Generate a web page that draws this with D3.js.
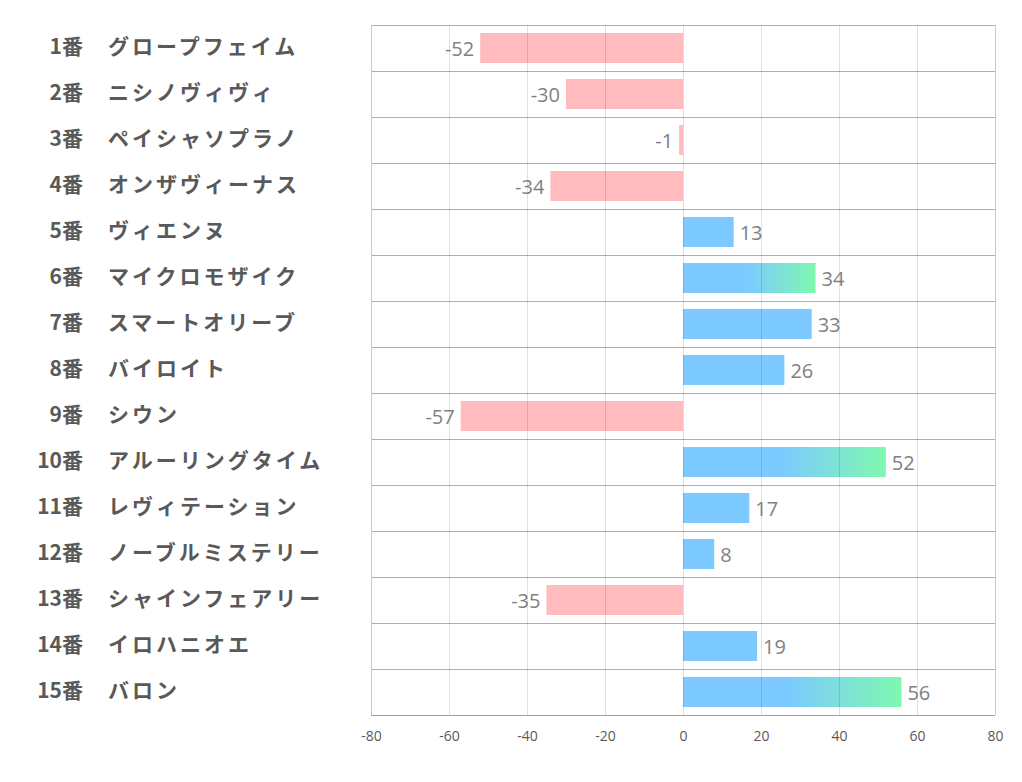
<!DOCTYPE html>
<html><head><meta charset="utf-8">
<script src="https://cdn.jsdelivr.net/npm/d3@7"></script>
<style>body{margin:0;background:#fff}svg{display:block}</style>
</head><body><svg id="c" width="1022" height="782"></svg>
<script>
const numbers = ["1番","2番","3番","4番","5番","6番","7番","8番","9番","10番","11番","12番","13番","14番","15番"];
const names = ["グロープフェイム","ニシノヴィヴィ","ペイシャソプラノ","オンザヴィーナス","ヴィエンヌ","マイクロモザイク","スマートオリーブ","バイロイト","シウン","アルーリングタイム","レヴィテーション","ノーブルミステリー","シャインフェアリー","イロハニオエ","バロン"];
const values = [-52,-30,-1,-34,13,34,33,26,-57,52,17,8,-35,19,56];
const tickValues = [-80,-60,-40,-20,0,20,40,60,80];

const svg = d3.select("#c");
const L = 371, R = 995, T = 25, B = 715;
const x = d3.scaleLinear().domain([-80,80]).range([L,R]);
const y = d3.scaleBand().domain(d3.range(values.length)).range([T,B]);
const barH = 30;

const top3 = values.slice().sort((a,b)=>b-a).slice(0,3);

const defs = svg.append("defs");
const grad = defs.append("linearGradient").attr("id","g").attr("x1","0").attr("x2","1").attr("y1","0").attr("y2","0");
grad.append("stop").attr("offset","0.48").attr("stop-color","#7ccaff");
grad.append("stop").attr("offset","1").attr("stop-color","#7ff8b0");

// horizontal separators
svg.append("g").selectAll("line").data(d3.range(values.length)).join("line")
  .attr("x1",L).attr("x2",R).attr("y1",i=>y(i)+0.5).attr("y2",i=>y(i)+0.5)
  .attr("stroke","#b0b0b0").attr("stroke-width",1);

// bars
svg.append("g").selectAll("rect").data(values).join("rect")
  .attr("x",d=>Math.min(x(0),x(d)))
  .attr("width",d=>Math.abs(x(d)-x(0)))
  .attr("y",(d,i)=>y(i)+(y.bandwidth()-barH)/2)
  .attr("height",barH)
  .attr("fill",d=> d<0 ? "#ffbbbe" : (top3.includes(d) ? "url(#g)" : "#7ccaff"));

// vertical gridlines (drawn over, faint)
svg.append("g").selectAll("line").data(tickValues).join("line")
  .attr("x1",d=>Math.round(x(d))+0.5).attr("x2",d=>Math.round(x(d))+0.5)
  .attr("y1",T).attr("y2",B)
  .attr("stroke",d=> (d===-80||d===80)?"#c8c8c8":"rgba(0,0,0,0.12)").attr("stroke-width",1);

// bottom axis line
svg.append("line").attr("x1",L).attr("x2",R).attr("y1",B+0.5).attr("y2",B+0.5)
  .attr("stroke","#a0a0a0").attr("stroke-width",1);

// tick labels
const ax = svg.append("g").attr("transform",`translate(0,${B})`)
  .call(d3.axisBottom(x).tickValues(tickValues).tickSize(0).tickPadding(16).tickFormat(d3.format("d")));
ax.select(".domain").remove();
ax.selectAll("text").attr("font-family","'Open Sans','Noto Sans',sans-serif").attr("font-size",14).attr("fill","#595959")
  .text(d=>String(d));

// value labels
svg.append("g").selectAll("text").data(values).join("text")
  .attr("x",d=> d<0 ? x(d)-6 : x(d)+6)
  .attr("y",(d,i)=>y(i)+y.bandwidth()/2+1)
  .attr("dy","0.35em")
  .attr("text-anchor",d=>d<0?"end":"start")
  .attr("font-family","'Open Sans','Noto Sans',sans-serif").attr("font-size",20).attr("fill","#7f7f7f")
  .text(d=>d);

// category labels
const lab = svg.append("g").attr("font-family","'Noto Sans CJK JP',sans-serif").attr("font-weight","bold").attr("font-size",21).attr("fill","#595959");
lab.selectAll("text.n").data(numbers).join("text").attr("class","n")
  .attr("x",83).attr("text-anchor","end")
  .attr("y",(d,i)=>y(i)+y.bandwidth()/2-1).attr("dy","0.35em").text(d=>d);
lab.selectAll("text.m").data(names).join("text").attr("class","m")
  .attr("x",108).attr("letter-spacing",3).attr("y",(d,i)=>y(i)+y.bandwidth()/2-1).attr("dy","0.35em").text(d=>d);
</script></body></html>
